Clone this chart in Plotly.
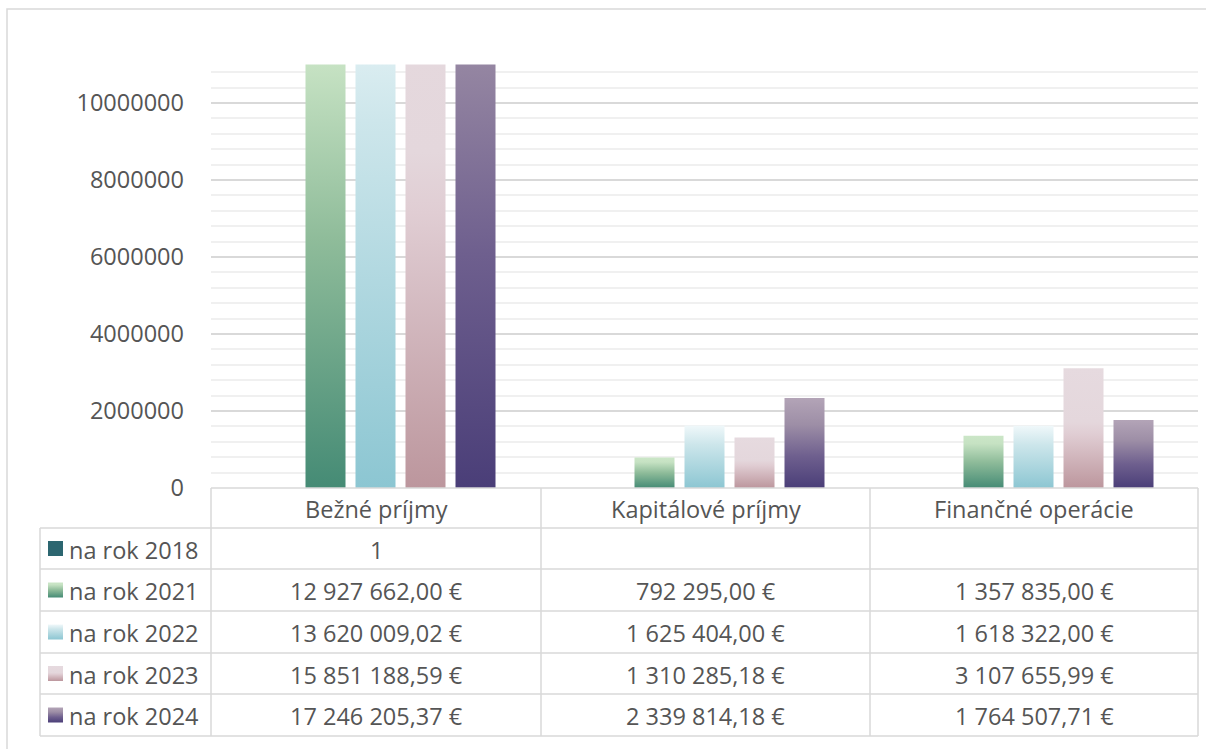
import plotly.graph_objects as go

# ---- data ----
categories = ["Bežné príjmy", "Kapitálové príjmy", "Finančné operácie"]
series_names = ["na rok 2018", "na rok 2021", "na rok 2022", "na rok 2023", "na rok 2024"]
values_2018 = [1, None, None]
values_2021 = [12927662.00, 792295.00, 1357835.00]
values_2022 = [13620009.02, 1625404.00, 1618322.00]
values_2023 = [15851188.59, 1310285.18, 3107655.99]
values_2024 = [17246205.37, 2339814.18, 1764507.71]
all_values = [values_2018, values_2021, values_2022, values_2023, values_2024]

# ---- styles ----
W, H = 1206, 749          # reference frame
FH = 764                  # figure height (compensates page scaling)
TXT = "#555555"
FONT = "Open Sans"
FS = 23.5
GRID = "#D9D9D9"
scales = [
    [[0, "#2C6670"], [1, "#2C6670"]],
    [[0, "#458B75"], [0.5, "#8FBC9A"], [0.85, "#C6E2C3"], [1, "#CBE6C7"]],
    [[0, "#8CC6D2"], [0.7, "#CDE6EB"], [1, "#F0F8FA"]],
    [[0, "#BC969D"], [0.45, "#E0CDD3"], [0.55, "#E4D7DC"], [1, "#E6DADF"]],
    [[0, "#4A3E78"], [0.35, "#6E5F8E"], [0.7, "#9D8EA6"], [1, "#B3A4B7"]],
]

PX_L, PX_R = 211, 1198
PY_TOP, PY_ZERO = 64.5, 488
YMAX = 11_000_000
ROW_Y = [488, 528, 569, 611, 653, 694, 736]
COL_X = [40, 211, 541, 870, 1198]

bar_w = 40 / 329
pitch = 50 / 329

def py(v):
    # reference pixel row (from top) -> overlay axis value (from bottom, 0..H)
    return H - v

fig = go.Figure()

# bars as gradient-filled polygons on the main axes
for si, (name, vals) in enumerate(zip(series_names, all_values)):
    for ci, v in enumerate(vals):
        if v is None:
            continue
        c = ci + (si - 2) * pitch
        x0, x1 = c - bar_w / 2, c + bar_w / 2
        fig.add_trace(go.Scatter(
            x=[x0, x0, x1, x1, x0], y=[0, v, v, 0, 0],
            mode="lines", fill="toself",
            line=dict(width=0, color="rgba(0,0,0,0)"),
            fillgradient=dict(type="vertical", colorscale=scales[si]),
            name=name, showlegend=False, hoverinfo="skip",
            xaxis="x", yaxis="y"))

# legend keys in the table (pixel overlay axes)
for si in range(len(series_names)):
    cy = (ROW_Y[si + 1] + ROW_Y[si + 2]) / 2
    x0, x1, y0, y1 = 48, 63, py(cy + 7.5), py(cy - 7.5)
    fig.add_trace(go.Scatter(
        x=[x0, x0, x1, x1, x0], y=[y0, y1, y1, y0, y0],
        mode="lines", fill="toself",
        line=dict(width=0, color="rgba(0,0,0,0)"),
        fillgradient=dict(type="vertical", colorscale=scales[si]),
        showlegend=False, hoverinfo="skip", xaxis="x2", yaxis="y2"))

shapes = []
def hline(y, xa, xb):
    shapes.append(dict(type="line", xref="x2", yref="y2", x0=xa, x1=xb, y0=py(y), y1=py(y),
                       line=dict(color=GRID, width=1.5)))
def vline(x, ya, yb):
    shapes.append(dict(type="line", xref="x2", yref="y2", x0=x, x1=x, y0=py(ya), y1=py(yb),
                       line=dict(color=GRID, width=1.5)))

# outer chart border
shapes.append(dict(type="rect", xref="x2", yref="y2", x0=7, x1=1215, y0=py(9), y1=py(775),
                   line=dict(color="#D9D9D9", width=1.5), fillcolor="rgba(0,0,0,0)"))

# data table grid
hline(ROW_Y[0], COL_X[1], COL_X[-1])
for y in ROW_Y[1:]:
    hline(y, COL_X[0], COL_X[-1])
vline(COL_X[0], ROW_Y[1], ROW_Y[-1])
for x in COL_X[1:]:
    vline(x, ROW_Y[0], ROW_Y[-1])

def fmt_eur(v):
    s = f"{v:,.2f}"
    ip, dp = s.split(".")
    return ip.replace(",", " ") + "," + dp + " €"

annotations = []
def text(x, y, t, anchor="center"):
    annotations.append(dict(xref="x2", yref="y2", x=x, y=py(y), text=t, showarrow=False,
                            xanchor=anchor, yanchor="middle",
                            font=dict(family=FONT, size=FS, color=TXT)))

for ci, cat in enumerate(categories):
    cx = (COL_X[ci + 1] + COL_X[ci + 2]) / 2
    text(cx, (ROW_Y[0] + ROW_Y[1]) / 2 + 1, cat)
for si, (name, vals) in enumerate(zip(series_names, all_values)):
    cy = (ROW_Y[si + 1] + ROW_Y[si + 2]) / 2 + 1
    text(67, cy, name, anchor="left")
    for ci, v in enumerate(vals):
        if v is None:
            continue
        cx = (COL_X[ci + 1] + COL_X[ci + 2]) / 2
        label = str(int(v)) if si == 0 else fmt_eur(v)
        text(cx, cy, label)

fig.update_layout(
    width=W, height=FH, autosize=False,
    margin=dict(l=0, r=0, t=0, b=0, pad=0),
    paper_bgcolor="white", plot_bgcolor="rgba(0,0,0,0)",
    font=dict(family=FONT, size=FS, color=TXT),
    showlegend=False,
    xaxis=dict(domain=[PX_L / W, PX_R / W], range=[-0.5, 2.5],
               showgrid=False, zeroline=False, showticklabels=False, showline=False,
               fixedrange=True),
    yaxis=dict(domain=[1 - PY_ZERO / H, 1 - PY_TOP / H], range=[0, YMAX],
               dtick=2_000_000, tick0=0, tickformat="d",
               showgrid=True, gridcolor=GRID, gridwidth=1.5,
               minor=dict(dtick=400_000, showgrid=True, gridcolor="#F0F0F0", gridwidth=1.5),
               zeroline=False, showline=False, ticks="",
               ticklabelstandoff=26,
               tickfont=dict(family=FONT, size=FS, color=TXT), fixedrange=True),
    xaxis2=dict(domain=[0, 1], range=[0, W], anchor="y2", visible=False, fixedrange=True),
    yaxis2=dict(domain=[0, 1], range=[0, H], anchor="x2", visible=False, fixedrange=True),
    shapes=shapes, annotations=annotations,
)

fig.write_html("out.html", config={"displayModeBar": False, "responsive": False},
               post_script="document.body.style.margin='0';document.documentElement.style.overflow='hidden';")
